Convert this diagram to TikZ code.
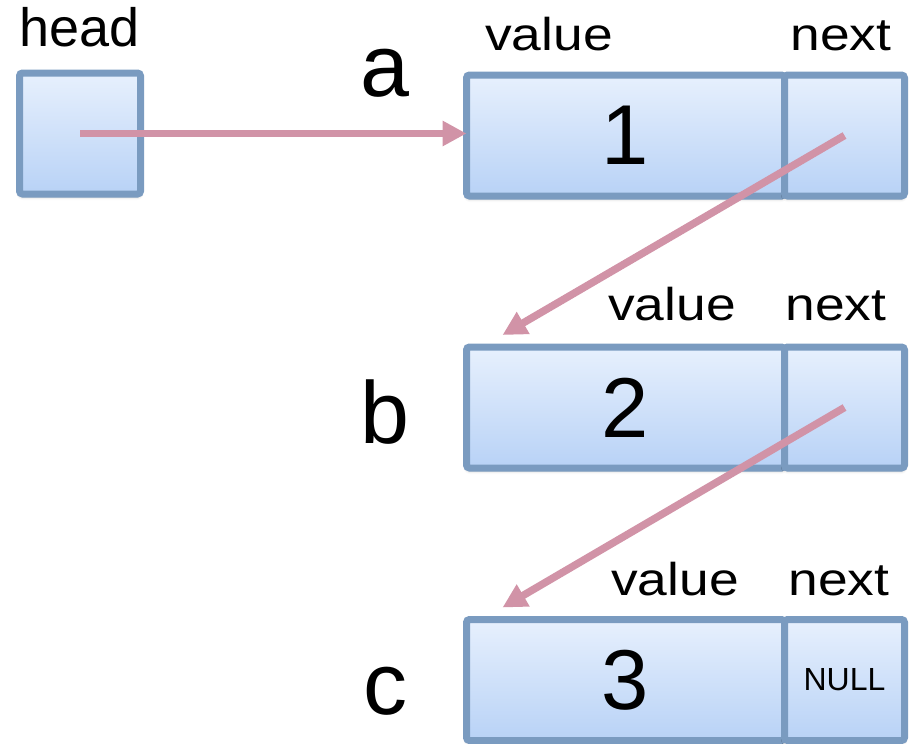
\documentclass[tikz,border=0pt]{standalone}
\usepackage{fontspec}
\setmainfont{Liberation Sans}
\usetikzlibrary{calc,positioning,arrows.meta,shadows.blur}

\definecolor{cellline}{RGB}{122,155,192}
\definecolor{celltop}{RGB}{231,240,253}
\definecolor{cellbottom}{RGB}{184,210,246}
\definecolor{linkpink}{RGB}{209,147,167}

\newcommand{\widetag}[1]{\scalebox{1.16}[1]{#1}}

\tikzset{
	cell/.style={rectangle, draw=cellline, line width=7pt, rounded corners=3pt,
		top color=celltop, bottom color=cellbottom, minimum height=121pt,
		inner sep=0pt, outer sep=0pt,
		blur shadow={shadow xshift=0pt, shadow yshift=-3pt, shadow blur radius=3pt, shadow opacity=25}},
	valcell/.style={cell, minimum width=318pt, font=\fontsize{85}{85}\selectfont},
	nextcell/.style={cell, minimum width=120pt, font=\fontsize{32}{32}\selectfont},
	link/.style={draw=linkpink, line width=7.5pt, -{Triangle[length=24pt,width=24pt]}},
	tag/.style={anchor=base, inner sep=0pt, font=\fontsize{88}{88}\selectfont},
	fieldtag/.style={anchor=base, inner sep=0pt, font=\fontsize{46}{46}\selectfont}
}

\begin{document}
\begin{tikzpicture}[x=1pt, y=-1pt]
			%%%%% START %%%%%
			\useasboundingbox (0, 0) rectangle (914, 744);
			
			% head pointer
			\node[anchor=base, inner sep=0pt, font=\fontsize{54}{54}\selectfont] (headtag) at (79.5, 46) {head};
			\node[cell, minimum width=121pt] (head) at (80, 133.5) {};
			
			% node a
			\node[tag] (atag) at (385, 96.5) {a};
			\node[fieldtag] (avaltag) at (549, 50) {\widetag{value}};
			\node[fieldtag] (anexttag) at (841, 50) {\widetag{next}};
			\node[valcell] (aval) at (625.5, 135.5) {1};
			\node[nextcell, right=0pt of aval] (anext) {};
			
			% node b
			\node[tag] (btag) at (385, 443) {b};
			\node[fieldtag] (bvaltag) at (672, 320) {\widetag{value}};
			\node[fieldtag] (bnexttag) at (836, 320) {\widetag{next}};
			\node[valcell] (bval) at (625.5, 407.5) {2};
			\node[nextcell, right=0pt of bval] (bnext) {};
			
			% node c
			\node[tag] (ctag) at (385, 714) {c};
			\node[fieldtag] (cvaltag) at (675, 595) {\widetag{value}};
			\node[fieldtag] (cnexttag) at (839, 595) {\widetag{next}};
			\node[valcell] (cval) at (625.5, 680) {3};
			\node[nextcell, right=0pt of cval] (cnext) {NULL};
			
			% where the pointers land
			\coordinate (bin) at ($(bval.north west)+(36, -12)$);
			\coordinate (cin) at ($(cval.north west)+(36, -12)$);
			
			\draw[link] (head.center) -- (head.center -| aval.west);
			\draw[link] (anext.center) -- (bin);
			\draw[link] (bnext.center) -- (cin);
			
			%%%%% END %%%%%
\end{tikzpicture}
\end{document}
